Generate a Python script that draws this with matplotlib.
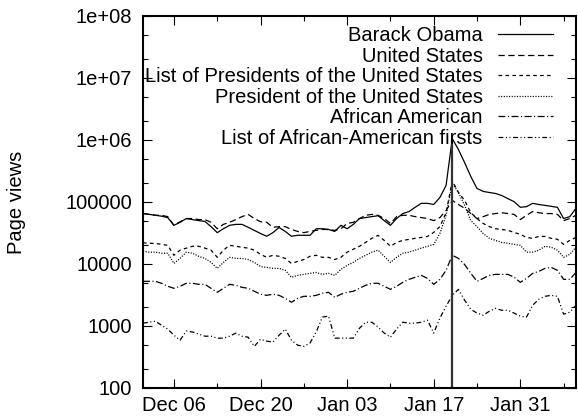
import pandas as pd
import matplotlib
matplotlib.use('Agg')
import matplotlib.pyplot as plt
import matplotlib.dates as mdates
from matplotlib.ticker import LogLocator, FuncFormatter, NullFormatter

plt.rcParams['font.family'] = ['Liberation Sans', 'DejaVu Sans']
plt.rcParams['lines.scale_dashes'] = False

# daily page views, 1 Dec 2008 .. 9 Feb 2009
days = pd.date_range('2008-12-01', '2009-02-09', freq='D')
inauguration = pd.Timestamp('2009-01-20')

barack_obama = [65000, 63000, 61000, 59000, 56000, 42000, 47000, 54000, 52000, 50000,
                48600, 40000, 32000, 37000, 42000, 43500, 43500, 39000, 34800, 31000,
                28000, 32000, 38700, 33500, 28000, 29000, 29000, 29000, 37000, 37000,
                36000, 33500, 42000, 37000, 43500, 54000, 56000, 58000, 60000, 50000,
                42000, 54000, 65000, 70000, 82000, 95000, 95000, 91000, 118000, 185000,
                1050000, 700000, 430000, 257000, 165000, 148000, 142000, 137000, 127000, 113000,
                101000, 82000, 84000, 95000, 91000, 88000, 85000, 82000, 54000, 58000,
                79000]
united_states = [65000, 63000, 61000, 61000, 58000, 42000, 48000, 54000, 54000, 52000,
                 52000, 47000, 37000, 43500, 47000, 52000, 58000, 63000, 54000, 48000,
                 47000, 39000, 40000, 40000, 36000, 33500, 32000, 33500, 34800, 36000,
                 36000, 34800, 37000, 45000, 47000, 54000, 61000, 63000, 61000, 54000,
                 45000, 58000, 61000, 61000, 58000, 56000, 54000, 50000, 56000, 73000,
                 106000, 91000, 79000, 65000, 54000, 58000, 63000, 65000, 67000, 65000,
                 63000, 52000, 61000, 70000, 67000, 65000, 65000, 63000, 50000, 54000,
                 61000]
list_presidents = [22000, 21500, 21500, 20700, 20000, 13800, 16700, 18000, 19300, 19300,
                   18000, 16700, 12800, 16700, 20000, 19300, 18600, 18000, 16700, 14300,
                   12800, 13800, 13300, 12300, 10200, 11000, 11800, 13300, 13800, 12800,
                   12800, 11800, 12800, 15500, 17300, 19300, 22300, 25900, 28900, 24000,
                   19300, 22300, 24000, 24900, 25900, 26800, 27800, 32300, 40000, 67000,
                   220000, 142000, 106000, 67000, 54000, 45000, 40000, 37000, 36000, 34800,
                   32300, 30000, 26800, 25900, 27800, 27800, 25900, 25000, 20700, 24000,
                   26800]
president_us = [16000, 15500, 15500, 14900, 14900, 10200, 12300, 15500, 14900, 13300,
                12300, 10600, 8500, 10600, 12800, 12300, 12300, 11800, 10600, 9100,
                8800, 8500, 8500, 7900, 6100, 6550, 6800, 7050, 7300, 6800,
                7050, 6550, 8200, 9500, 10600, 12300, 13800, 15500, 16700, 13300,
                10600, 12800, 14900, 15500, 16700, 18000, 19300, 20700, 31000, 61000,
                200000, 142000, 88000, 50000, 40000, 31000, 25900, 24000, 22300, 21500,
                20700, 20000, 15500, 15500, 16700, 19300, 18600, 16700, 12800, 14300,
                18600]
african_american = [5250, 5250, 5250, 4880, 4370, 4050, 4370, 4880, 4880, 4700,
                    4700, 4050, 3490, 4050, 4700, 4530, 4200, 4050, 3630, 3250,
                    3120, 3250, 3120, 2790, 2410, 2790, 3010, 3010, 3120, 3370,
                    3490, 2900, 3250, 3490, 3630, 4050, 4530, 4880, 4880, 4370,
                    3900, 4370, 5060, 5650, 6100, 6550, 5850, 4700, 5650, 7900,
                    13800, 12300, 9800, 7050, 5250, 5850, 6550, 6800, 6800, 6800,
                    6100, 5060, 5850, 7050, 7600, 8500, 8800, 7900, 5650, 5650,
                    7300]
aa_firsts = [1110, 1150, 1190, 1030, 890, 710, 590, 830, 800, 740,
             685, 685, 636, 636, 685, 767, 685, 660, 470, 610,
             570, 550, 710, 890, 590, 490, 470, 530, 800, 1390,
             1440, 636, 636, 636, 636, 920, 1150, 1150, 960, 767,
             660, 890, 1150, 1110, 1110, 1150, 1240, 767, 1340, 2080,
             3120, 3900, 2600, 1860, 1610, 1490, 1730, 1930, 1790, 1790,
             1610, 1440, 1390, 2160, 2700, 3010, 3120, 3010, 1550, 1670,
             2160]

names = ['Barack Obama', 'United States', 'List of Presidents of the United States',
         'President of the United States', 'African American',
         'List of African-American firsts']
values = [barack_obama, united_states, list_presidents, president_us,
          african_american, aa_firsts]
styles = ['-', (0, (4.5, 2.6)), (0, (2.6, 2.4)), (0, (0.8, 1.1)),
          (0, (5, 1.8, 0.8, 1.8)), (0, (3.5, 1.8, 0.8, 1.8, 0.8, 1.8))]

fs = 14.5

fig = plt.figure(figsize=(5.78, 4.19), dpi=100)
ax = fig.add_axes([0.2474, 0.074, 0.7491, 0.888])

for name, vals, ls in zip(names, values, styles):
    ax.plot(days, vals, color='black', lw=0.9, linestyle=ls, label=name)

# inauguration marker
ax.vlines(inauguration, 100, barack_obama[days.get_loc(inauguration)],
          color='#333333', lw=1.6)

ax.set_yscale('log')
ax.set_ylim(100, 1e8)
ax.set_xlim(days[0], days[-1])

ax.yaxis.set_major_locator(LogLocator(base=10, numticks=20))
ax.yaxis.set_minor_locator(LogLocator(base=10, subs=(2, 5), numticks=20))
ax.yaxis.set_minor_formatter(NullFormatter())
ax.yaxis.set_major_formatter(FuncFormatter(
    lambda v, p: '{:.0e}'.format(v) if v >= 1e6 else str(int(round(v)))))

major_days = pd.date_range('2008-12-06', days[-1], freq='14D')
minor_days = pd.date_range('2008-12-13', days[-1], freq='14D')
ax.set_xticks(major_days)
ax.set_xticks(minor_days, minor=True)
ax.xaxis.set_major_formatter(mdates.DateFormatter('%b %d'))

ax.tick_params(which='both', direction='in', top=True, right=True, labelsize=fs)
ax.tick_params(which='major', length=6.5, width=0.8)
ax.tick_params(which='minor', length=3.5, width=0.8)
ax.tick_params(axis='y', pad=8)
ax.tick_params(axis='x', pad=6)
for sp in ax.spines.values():
    sp.set_linewidth(1.5)

ax.set_ylabel('Page views', fontsize=fs)
ax.yaxis.set_label_coords(-0.27, 0.5)

ax.legend(loc='upper right', bbox_to_anchor=(0.947, 0.972), markerfirst=False,
          frameon=False, fontsize=fs, handlelength=2.75, handletextpad=0.75,
          labelspacing=0.075, borderpad=0, borderaxespad=0)

fig.savefig('out.png', dpi=100)
